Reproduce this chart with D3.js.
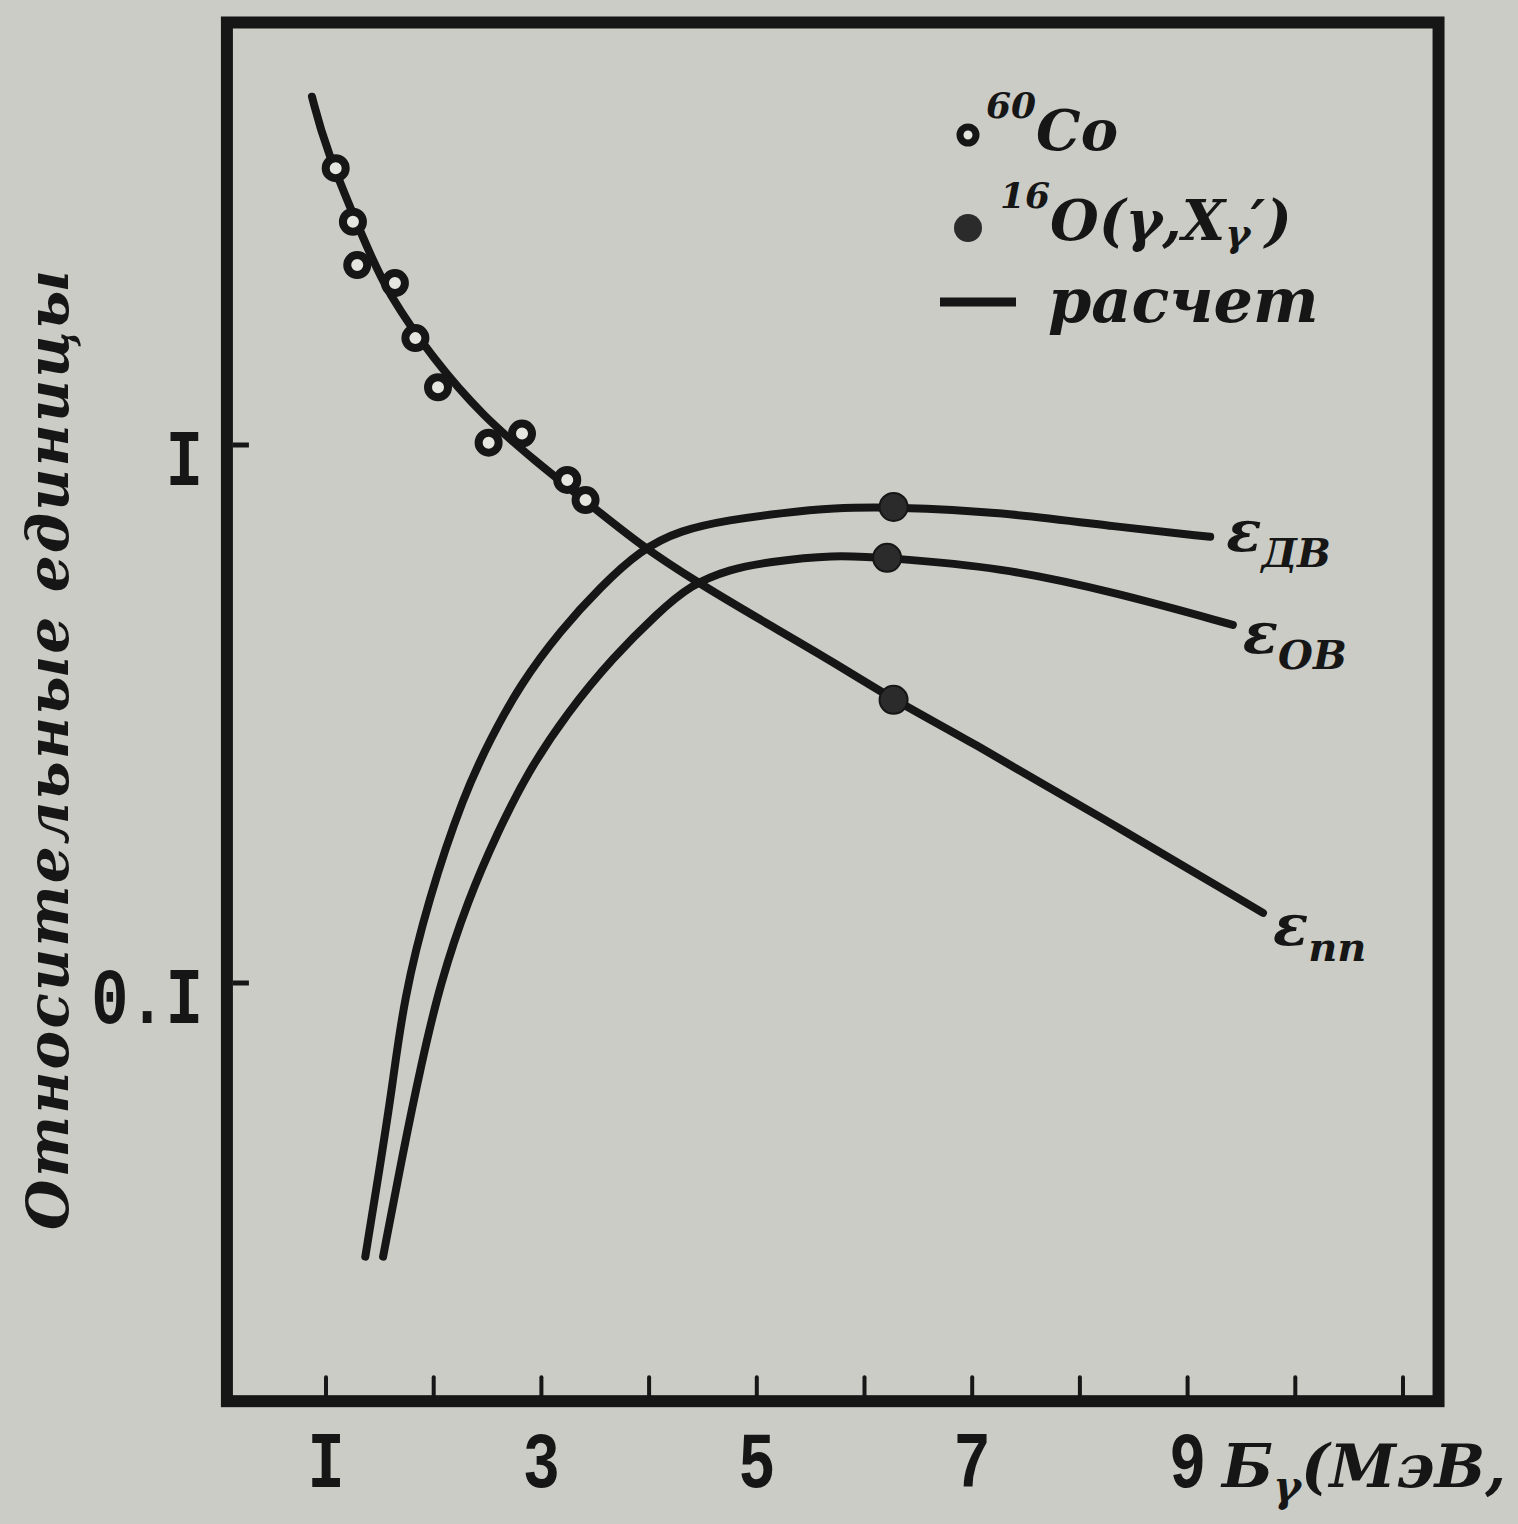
<!DOCTYPE html>
<html>
<head>
<meta charset="utf-8">
<script src="https://cdn.jsdelivr.net/npm/d3@7"></script>
<style>
  body { margin: 0; background: #cbccc6; }
  svg { display: block; }
</style>
</head>
<body>
<svg width="1518" height="1524"></svg>
<script>
// energy, MeV / relative units
var ppE = [0.87, 0.99, 1.38, 1.57, 2.0, 2.46, 2.93, 3.55, 3.92, 4.41, 5.10, 5.71, 6.27, 6.96, 8.19, 9.70];
var ppV = [4.44, 3.58, 2.33, 1.92, 1.44, 1.13, 0.938, 0.747, 0.652, 0.561, 0.465, 0.395, 0.336, 0.283, 0.2035, 0.135];

var dvE = [1.365, 1.50, 1.62, 1.72, 1.95, 2.28, 2.53, 2.80, 3.18, 3.55, 3.92, 4.29, 4.75, 5.22, 5.71, 6.27, 7.26, 8.35, 9.21];
var dvV = [0.031, 0.0455, 0.065, 0.093, 0.143, 0.224, 0.285, 0.358, 0.453, 0.545, 0.638, 0.695, 0.726, 0.747, 0.764, 0.767, 0.751, 0.704, 0.675];

var ovE = [1.53, 1.72, 1.88, 2.06, 2.32, 2.59, 2.87, 3.24, 3.67, 4.08, 4.38, 4.75, 5.10, 5.71, 6.21, 7.26, 8.35, 9.42];
var ovV = [0.031, 0.049, 0.070, 0.100, 0.143, 0.190, 0.246, 0.318, 0.404, 0.487, 0.549, 0.588, 0.606, 0.625, 0.617, 0.593, 0.531, 0.463];

// 60Co points
var coE = [1.09, 1.25, 1.29, 1.64, 1.83, 2.04, 2.51, 2.82, 3.24, 3.41];
var coV = [3.27, 2.60, 2.16, 2.00, 1.58, 1.28, 1.01, 1.05, 0.861, 0.79];

// 16O(g,Xg') points
var oxE = [6.27, 6.21, 6.27];
var oxV = [0.767, 0.617, 0.336];

var xTicks = [1, 2, 3, 4, 5, 6, 7, 8, 9, 10, 11];
var xLabels = {1: "I", 3: "3", 5: "5", 7: "7", 9: "9"};
var yTicks = [1, 0.1];
var yLabels = {1: "I", 0.1: "0.I"};

var ink = "#161616";
var cursive = "'DejaVu Serif', serif";

var svg = d3.select("svg");

var x = d3.scaleLinear().domain([1, 11]).range([326, 1403]);
var y = d3.scaleLog().domain([0.1, 1]).range([983, 445]);

var xMin = 0.08, xMax = 11.33, yMin = 0.0167, yMax = 6.1;

function zip(a, b) {
    return a.map(function (d, i) { return [d, b[i]]; });
}

var line = d3.line()
    .x(function (d) { return x(d[0]); })
    .y(function (d) { return y(d[1]); })
    .curve(d3.curveBasis);

// frame
svg.append("rect")
    .attr("x", x(xMin))
    .attr("y", y(yMax))
    .attr("width", x(xMax) - x(xMin))
    .attr("height", y(yMin) - y(yMax))
    .attr("fill", "none")
    .attr("stroke", ink)
    .attr("stroke-width", 12);

// x ticks (inside, pointing up)
svg.append("g").selectAll("line")
    .data(xTicks)
    .enter().append("line")
    .attr("x1", function (d) { return x(d); })
    .attr("x2", function (d) { return x(d); })
    .attr("y1", y(yMin) - 6)
    .attr("y2", y(yMin) - 24)
    .attr("stroke", ink)
    .attr("stroke-width", 4)
    .attr("stroke-linecap", "round");

function typewriter(sel) {
    sel.style("font-family", "'Liberation Mono', monospace")
        .style("font-weight", "bold")
        .style("font-size", "62px")
        .attr("fill", ink);
}

svg.append("g").selectAll("g")
    .data(xTicks.filter(function (d) { return xLabels[d]; }))
    .enter().append("g")
    .attr("transform", function (d) { return "translate(" + x(d) + "," + (y(yMin) + 86) + ") scale(1,1.3)"; })
    .append("text")
    .attr("text-anchor", "middle")
    .call(typewriter)
    .text(function (d) { return xLabels[d]; });

// y ticks
svg.append("g").selectAll("line")
    .data(yTicks)
    .enter().append("line")
    .attr("x1", x(xMin) + 6)
    .attr("x2", x(xMin) + 22)
    .attr("y1", function (d) { return y(d); })
    .attr("y2", function (d) { return y(d); })
    .attr("stroke", ink)
    .attr("stroke-width", 5);

svg.append("g").selectAll("g")
    .data(yTicks)
    .enter().append("g")
    .attr("transform", function (d) { return "translate(" + (x(xMin) - 24) + "," + (y(d) + 40) + ") scale(1,1.3)"; })
    .append("text")
    .attr("text-anchor", "end")
    .call(typewriter)
    .text(function (d) { return yLabels[d]; });

// axis titles
svg.append("text")
    .attr("transform", "translate(68,750) rotate(-90)")
    .attr("text-anchor", "middle")
    .attr("textLength", 960)
    .attr("lengthAdjust", "spacing")
    .style("font-family", cursive)
    .style("font-weight", "bold")
    .style("font-style", "italic")
    .style("font-size", "58px")
    .attr("fill", ink)
    .text("Относительные  единицы");

var xt = svg.append("text")
    .attr("x", 1222)
    .attr("y", y(yMin) + 86)
    .style("font-family", cursive)
    .style("font-weight", "bold")
    .style("font-style", "italic")
    .style("font-size", "60px")
    .attr("fill", ink);
xt.append("tspan").text("Б");
xt.append("tspan").attr("dy", 14).style("font-size", "42px").text("γ");
xt.append("tspan").attr("dy", -14).text("(МэВ,");

// curves
var curves = [zip(ppE, ppV), zip(dvE, dvV), zip(ovE, ovV)];
svg.append("g").selectAll("path")
    .data(curves)
    .enter().append("path")
    .attr("d", line)
    .attr("fill", "none")
    .attr("stroke", ink)
    .attr("stroke-width", 8)
    .attr("stroke-linecap", "round");

// open points
svg.append("g").selectAll("circle")
    .data(zip(coE, coV))
    .enter().append("circle")
    .attr("cx", function (d) { return x(d[0]); })
    .attr("cy", function (d) { return y(d[1]); })
    .attr("r", 10)
    .attr("fill", "#e6e6e1")
    .attr("stroke", ink)
    .attr("stroke-width", 8);

// filled points
svg.append("g").selectAll("circle")
    .data(zip(oxE, oxV))
    .enter().append("circle")
    .attr("cx", function (d) { return x(d[0]); })
    .attr("cy", function (d) { return y(d[1]); })
    .attr("r", 14)
    .attr("fill", "#2b2b2b")
    .attr("stroke", ink)
    .attr("stroke-width", 2);

// curve labels
var curveLabels = [
    {sub: "ДВ", e: 9.21, v: 0.675, dx: 16, dy: 14},
    {sub: "ОВ", e: 9.42, v: 0.463, dx: 10, dy: 28},
    {sub: "пп", e: 9.70, v: 0.135, dx: 10, dy: 32}
];
curveLabels.forEach(function (c) {
    var t = svg.append("text")
        .attr("x", x(c.e) + c.dx)
        .attr("y", y(c.v) + c.dy)
        .style("font-family", cursive)
        .style("font-weight", "bold")
        .style("font-style", "italic")
        .style("font-size", "58px")
        .attr("fill", ink);
    t.append("tspan").text("ε");
    t.append("tspan").attr("dy", 16).style("font-size", "40px").text(c.sub);
});

// legend
var lg = svg.append("g").attr("transform", "translate(968,0)");
lg.append("circle").attr("cx", 0).attr("cy", 135).attr("r", 8)
    .attr("fill", "#e6e6e1").attr("stroke", ink).attr("stroke-width", 7);
lg.append("circle").attr("cx", 0).attr("cy", 228).attr("r", 14)
    .attr("fill", "#2b2b2b");
lg.append("line").attr("x1", -28).attr("x2", 48).attr("y1", 302).attr("y2", 302)
    .attr("stroke", ink).attr("stroke-width", 9);

var legendFont = function (sel) {
    sel.style("font-family", cursive)
        .style("font-weight", "bold")
        .style("font-style", "italic")
        .attr("fill", ink);
};
var t1 = lg.append("text").attr("x", 18).attr("y", 150).style("font-size", "56px").call(legendFont);
t1.append("tspan").attr("dy", -32).style("font-size", "36px").text("60");
t1.append("tspan").attr("dy", 32).text("Co");

var t2 = lg.append("text").attr("x", 32).attr("y", 240).style("font-size", "56px").call(legendFont);
t2.append("tspan").attr("dy", -32).style("font-size", "36px").text("16");
t2.append("tspan").attr("dy", 32).text("O(γ,X");
t2.append("tspan").attr("dy", 6).style("font-size", "38px").text("γ");
t2.append("tspan").attr("dy", -6).text("′)");

lg.append("text").attr("x", 80).attr("y", 322).style("font-size", "62px").call(legendFont)
    .text("расчет");
</script>
</body>
</html>
